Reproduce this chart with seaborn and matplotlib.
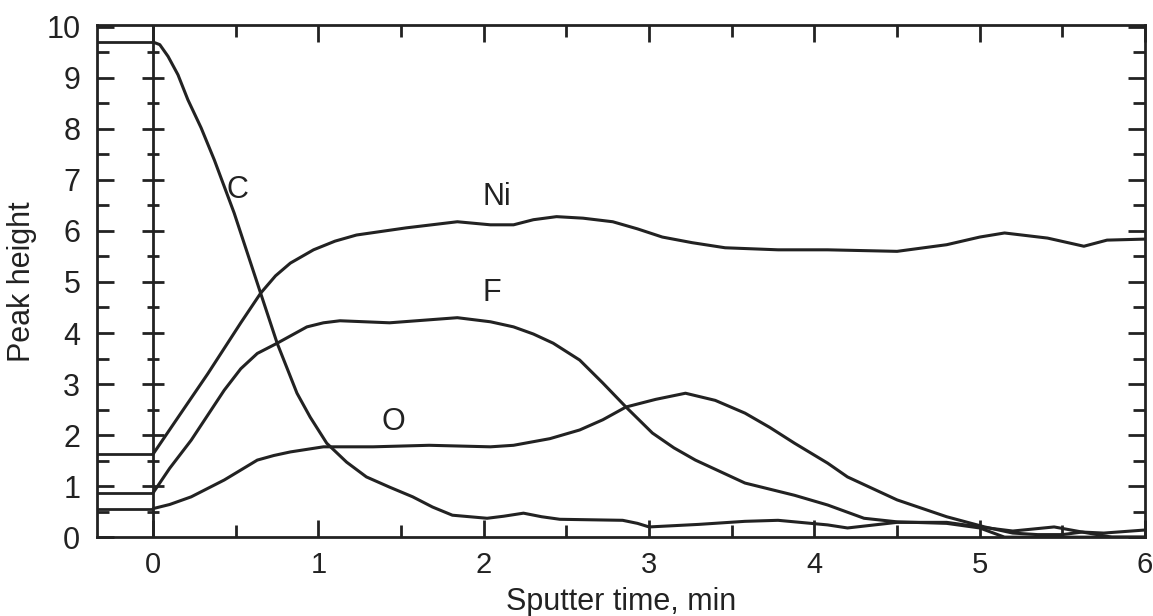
import numpy as np
import pandas as pd
import matplotlib
matplotlib.use("Agg")
import matplotlib.pyplot as plt
from matplotlib.ticker import MultipleLocator
import seaborn as sns

# ---- data ----
c_x = [0.0, 0.04, 0.09, 0.15, 0.21, 0.29, 0.37, 0.49, 0.65, 0.75, 0.87, 0.95, 1.05, 1.17, 1.29,
       1.43, 1.57, 1.69, 1.81, 2.02, 2.12, 2.24, 2.35, 2.46, 2.84, 2.93, 3.0, 3.3, 3.58, 3.78,
       4.08, 4.2, 4.5, 4.8, 5.0, 5.2, 5.45, 5.62, 5.75, 6.0]
c_y = [9.7, 9.65, 9.42, 9.06, 8.57, 8.02, 7.39, 6.35, 4.78, 3.8, 2.82, 2.35, 1.84, 1.47, 1.18,
       0.98, 0.79, 0.59, 0.43, 0.37, 0.41, 0.47, 0.4, 0.35, 0.33, 0.27, 0.2, 0.25, 0.31, 0.33,
       0.24, 0.18, 0.29, 0.29, 0.2, 0.12, 0.2, 0.1, 0.08, 0.14]

ni_x = [0.0, 0.13, 0.33, 0.53, 0.65, 0.74, 0.83, 0.97, 1.1, 1.23, 1.53, 1.84, 2.04, 2.18, 2.3,
        2.44, 2.6, 2.78, 2.93, 3.08, 3.26, 3.46, 3.78, 4.08, 4.5, 4.8, 5.0, 5.15, 5.41, 5.63,
        5.77, 6.0]
ni_y = [1.63, 2.25, 3.2, 4.2, 4.78, 5.12, 5.37, 5.63, 5.8, 5.92, 6.06, 6.18, 6.12, 6.12, 6.22,
        6.28, 6.25, 6.18, 6.04, 5.88, 5.77, 5.67, 5.63, 5.63, 5.6, 5.73, 5.88, 5.96, 5.86, 5.7,
        5.82, 5.84]

f_x = [0.0, 0.1, 0.23, 0.43, 0.53, 0.63, 0.75, 0.93, 1.03, 1.13, 1.43, 1.84, 2.04, 2.18, 2.3,
       2.42, 2.58, 2.72, 2.86, 3.02, 3.15, 3.28, 3.58, 3.88, 4.08, 4.3, 4.5, 4.8, 5.0, 5.15, 6.0]
f_y = [0.87, 1.35, 1.9, 2.88, 3.3, 3.6, 3.8, 4.12, 4.2, 4.24, 4.2, 4.3, 4.22, 4.12, 3.98,
       3.8, 3.47, 3.02, 2.55, 2.04, 1.75, 1.51, 1.06, 0.82, 0.63, 0.37, 0.3, 0.27, 0.18, 0.0, 0.0]

o_x = [0.0, 0.1, 0.23, 0.43, 0.63, 0.73, 0.83, 1.03, 1.33, 1.67, 2.04, 2.18, 2.4, 2.58, 2.72,
       2.86, 3.04, 3.22, 3.4, 3.58, 3.73, 3.88, 4.08, 4.2, 4.5, 4.8, 5.03, 5.2, 5.35, 5.5, 5.62,
       5.8, 6.0]
o_y = [0.56, 0.64, 0.79, 1.12, 1.51, 1.6, 1.67, 1.77, 1.77, 1.8, 1.77, 1.8, 1.93, 2.1, 2.3,
       2.55, 2.7, 2.82, 2.68, 2.43, 2.15, 1.84, 1.45, 1.18, 0.73, 0.4, 0.2, 0.08, 0.05, 0.05, 0.1,
       0.0, 0.0]

elements = ["C", "Ni", "F", "O"]
label_x = [0.51, 2.08, 2.05, 1.45]
label_y = [6.8, 6.67, 4.78, 2.25]

x_ticks = [0, 1, 2, 3, 4, 5, 6]
y_ticks = [0, 1, 2, 3, 4, 5, 6, 7, 8, 9, 10]

series = {"C": (c_x, c_y), "Ni": (ni_x, ni_y), "F": (f_x, f_y), "O": (o_x, o_y)}
df = pd.concat(
    [pd.DataFrame({"time": xs, "height": ys, "element": name})
     for name, (xs, ys) in series.items()],
    ignore_index=True,
)

# ---- style ----
sns.set_theme(style="ticks")
plt.rcParams["font.family"] = ["Liberation Sans", "DejaVu Sans"]
ink = "#222222"
plt.rcParams["text.color"] = ink
plt.rcParams["axes.labelcolor"] = ink
plt.rcParams["xtick.color"] = ink
plt.rcParams["ytick.color"] = ink
plt.rcParams["lines.solid_joinstyle"] = "round"
plt.rcParams["lines.solid_capstyle"] = "round"

fig = plt.figure(figsize=(11.53, 6.16), dpi=100)
ax = fig.add_axes([0.0841, 0.128, 0.909, 0.831])

sns.lineplot(data=df, x="time", y="height", hue="element", units="element",
             estimator=None, sort=False, palette={e: ink for e in elements},
             linewidth=2.2, legend=False, ax=ax)

xmin, xmax = -0.34, 6.0
ax.set_xlim(xmin, xmax)
ax.set_ylim(0, 10.03)

# vertical line at t=0 with cross ticks
ax.axvline(0, color=ink, lw=2.0, zorder=1)
ymaj = np.arange(1, 10).astype(float)
ymin_ = np.arange(0.5, 10, 1.0)
ax.plot(np.zeros_like(ymaj), ymaj, ls="none", marker="_", ms=16, mew=2.0, color=ink)
ax.plot(np.zeros_like(ymin_), ymin_, ls="none", marker="_", ms=9, mew=2.0, color=ink)

# initial levels drawn from frame to t=0
starts = [series[e][1][0] for e in elements]
ax.hlines(starts, xmin, 0, colors=ink, lw=2.0)

for name, lx, ly in zip(elements, label_x, label_y):
    ax.text(lx, ly, name, fontsize=22, ha="center", va="center", color=ink)

ax.set_xticks(x_ticks)
ax.set_yticks(y_ticks)
ax.xaxis.set_minor_locator(MultipleLocator(0.5))
ax.yaxis.set_minor_locator(MultipleLocator(0.5))
ax.tick_params(which="both", direction="in", top=True, right=True, width=2.0, color=ink)
ax.tick_params(which="major", length=12.5)
ax.tick_params(which="minor", length=8.5)
ax.tick_params(axis="y", which="major", labelsize=22, pad=12)
ax.tick_params(axis="x", which="major", labelsize=21, pad=10)

for s in ax.spines.values():
    s.set_linewidth(2.0)
    s.set_color(ink)

ax.set_xlabel("Sputter time, min", fontsize=22)
ax.set_ylabel("Peak height", fontsize=22)
ax.xaxis.set_label_coords(0.5, -0.098)
ax.yaxis.set_label_coords(-0.057, 0.5)

fig.savefig("out.png", dpi=100)
